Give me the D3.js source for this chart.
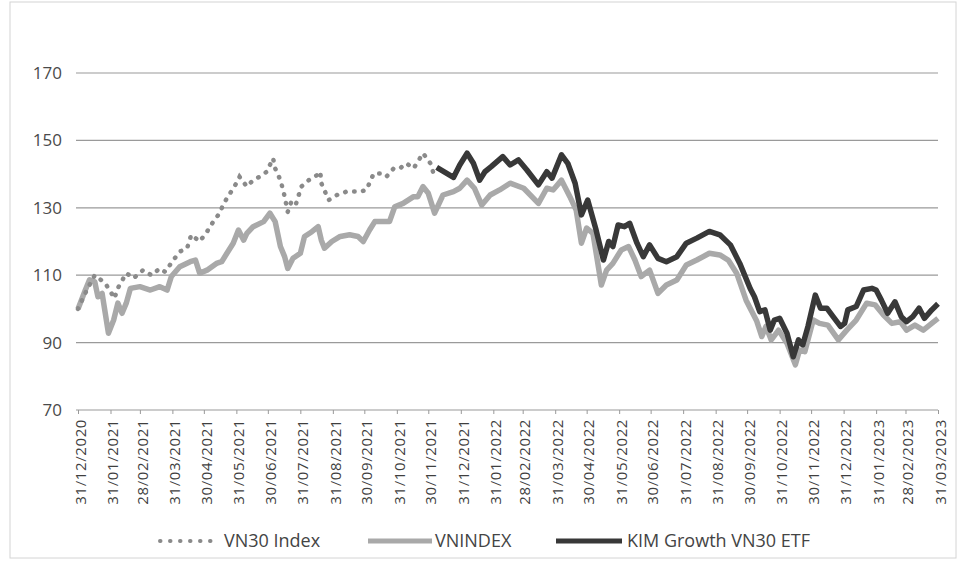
<!DOCTYPE html>
<html>
<head>
<meta charset="utf-8">
<script src="https://cdn.jsdelivr.net/npm/d3@7"></script>
<style>
  body { margin: 0; background: #fff; }
  #chart { width: 958px; height: 567px; }
  text { font-family: "Open Sans", "Noto Sans", sans-serif; }
</style>
</head>
<body>
<div id="chart"></div>
<script>
// VNINDEX (rebased to 100 at 31/12/2020)
const vnindexDates = ["2020-12-31","2021-01-07","2021-01-11","2021-01-16","2021-01-19","2021-01-23","2021-01-26","2021-01-29","2021-02-03","2021-02-07","2021-02-11","2021-02-15","2021-02-19","2021-02-28","2021-03-10","2021-03-19","2021-03-26","2021-03-30","2021-04-07","2021-04-17","2021-04-22","2021-04-26","2021-05-03","2021-05-12","2021-05-17","2021-05-22","2021-05-28","2021-06-02","2021-06-07","2021-06-10","2021-06-16","2021-06-26","2021-07-02","2021-07-07","2021-07-12","2021-07-16","2021-07-19","2021-07-24","2021-07-31","2021-08-04","2021-08-11","2021-08-17","2021-08-20","2021-08-23","2021-08-30","2021-09-07","2021-09-16","2021-09-24","2021-09-29","2021-10-05","2021-10-10","2021-10-18","2021-10-24","2021-10-29","2021-11-06","2021-11-16","2021-11-20","2021-11-25","2021-11-30","2021-12-06","2021-12-14","2021-12-24","2021-12-30","2022-01-06","2022-01-13","2022-01-20","2022-01-28","2022-02-06","2022-02-16","2022-03-01","2022-03-15","2022-03-23","2022-03-29","2022-04-06","2022-04-14","2022-04-20","2022-04-25","2022-04-30","2022-05-06","2022-05-14","2022-05-19","2022-05-25","2022-06-02","2022-06-09","2022-06-15","2022-06-21","2022-06-29","2022-07-07","2022-07-15","2022-07-25","2022-08-03","2022-08-13","2022-08-25","2022-09-04","2022-09-12","2022-09-20","2022-09-29","2022-10-09","2022-10-14","2022-10-18","2022-10-23","2022-10-30","2022-11-07","2022-11-15","2022-11-19","2022-11-24","2022-12-02","2022-12-08","2022-12-16","2022-12-26","2023-01-03","2023-01-12","2023-01-22","2023-01-30","2023-02-07","2023-02-15","2023-02-23","2023-03-01","2023-03-09","2023-03-17","2023-03-25","2023-03-31"];
const vnindexValues = [100,105.6,108.6,108,103.6,104.6,98.7,92.8,96.7,101.7,98.7,101.7,106.1,106.6,105.6,106.6,105.6,109.6,112.5,114,114.5,110.6,111.5,113.5,114,116.5,119.5,123.4,120.4,122.4,124.4,125.9,128.4,125.9,118.5,115.5,112,115,116.5,121.5,122.9,124.4,120.4,118,120,121.5,122,121.5,120,123.4,125.9,125.9,125.9,130.3,131.3,133.3,133.3,136.3,134.3,128.4,133.8,134.8,135.8,138.2,135.8,130.8,133.8,135.3,137.3,135.8,131.3,135.8,135.3,138.2,133.3,129.3,119.5,124,122.4,107.1,111.5,113.5,117.5,118.5,114.5,109.6,111.5,104.6,107.1,108.6,113,114.5,116.5,116,114.5,110.6,102.6,96.5,91.8,94.8,90.8,93.7,89.8,83.4,87.8,87.3,96.7,95.7,95.2,90.8,93.7,96.7,101.7,101.2,98.2,95.7,96.2,93.7,95.2,93.7,95.7,97.2];

// VN30 Index (visible part, later covered by the ETF line)
const vn30Dates = ["2020-12-31","2021-01-09","2021-01-16","2021-01-26","2021-02-04","2021-02-06","2021-02-15","2021-02-22","2021-03-03","2021-03-11","2021-03-19","2021-03-24","2021-04-01","2021-04-07","2021-04-14","2021-04-18","2021-04-26","2021-05-03","2021-05-09","2021-05-15","2021-05-19","2021-05-25","2021-05-31","2021-06-03","2021-06-10","2021-06-16","2021-06-22","2021-06-29","2021-07-05","2021-07-07","2021-07-12","2021-07-15","2021-07-19","2021-07-23","2021-07-27","2021-08-01","2021-08-08","2021-08-16","2021-08-19","2021-08-20","2021-08-27","2021-09-04","2021-09-13","2021-09-26","2021-10-02","2021-10-09","2021-10-15","2021-10-21","2021-10-28","2021-11-03","2021-11-09","2021-11-16","2021-11-25","2021-12-02","2021-12-05","2021-12-08"];
const vn30Values = [100,106,110,107.6,103.1,105.6,110.6,109.1,111.5,110,112,111,114.5,117,118,122,120,122.9,125.9,128.4,131.3,134.3,137.3,139.2,136.3,138.2,139.2,140.7,144.7,141.7,138.2,134.8,128.8,132.3,131.3,136.3,138.2,139.7,140.7,137.3,132.3,133.8,134.8,134.8,135.3,140.2,140.2,139.2,141.7,141.7,143.2,141.7,146.2,143.2,140.2,141.7];

// KIM Growth VN30 ETF
const etfDates = ["2021-12-08","2021-12-24","2021-12-30","2022-01-06","2022-01-12","2022-01-18","2022-01-23","2022-01-29","2022-02-09","2022-02-16","2022-02-24","2022-03-04","2022-03-15","2022-03-23","2022-03-28","2022-04-06","2022-04-12","2022-04-19","2022-04-25","2022-05-01","2022-05-09","2022-05-16","2022-05-21","2022-05-25","2022-05-30","2022-06-05","2022-06-10","2022-06-17","2022-06-23","2022-06-29","2022-07-07","2022-07-15","2022-07-25","2022-08-03","2022-08-13","2022-08-25","2022-09-04","2022-09-14","2022-09-23","2022-10-03","2022-10-07","2022-10-12","2022-10-17","2022-10-22","2022-10-26","2022-10-31","2022-11-07","2022-11-13","2022-11-18","2022-11-22","2022-11-27","2022-12-04","2022-12-09","2022-12-15","2022-12-21","2022-12-28","2023-01-01","2023-01-04","2023-01-12","2023-01-19","2023-01-27","2023-01-31","2023-02-05","2023-02-11","2023-02-18","2023-02-24","2023-03-01","2023-03-07","2023-03-13","2023-03-18","2023-03-25","2023-03-31"];
const etfValues = [142,139,142.7,146.2,143.2,138.2,140.7,142.2,145.2,142.7,144.2,141.2,136.8,140.7,138.8,145.7,143.2,137.3,127.9,132.3,123.4,114.5,120,118.5,124.9,124.4,125.4,119.5,115.5,119,115,114,115.5,119.5,121,123,122,119,113.5,106,103.6,99.2,99.7,93.7,96.7,97.2,92.8,85.8,90.8,89.3,94.8,104.1,100.2,100.2,97.7,94.8,95.7,99.7,100.7,105.6,106.1,105.6,102.6,98.7,102.1,97.7,96.2,97.7,100.2,97.2,99.7,101.5];

// Axis ticks
const yTicks = [70, 90, 110, 130, 150, 170];
const xTickLabels = ["31/12/2020","31/01/2021","28/02/2021","31/03/2021","30/04/2021","31/05/2021","30/06/2021","31/07/2021","31/08/2021","30/09/2021","31/10/2021","30/11/2021","31/12/2021","31/01/2022","28/02/2022","31/03/2022","30/04/2022","31/05/2022","30/06/2022","31/07/2022","31/08/2022","30/09/2022","31/10/2022","30/11/2022","31/12/2022","31/01/2023","28/02/2023","31/03/2023"];

const legendNames = ["VN30 Index", "VNINDEX", "KIM Growth VN30 ETF"];

const width = 958, height = 567;
const parseDay = d3.timeParse("%Y-%m-%d");
const parseLabel = d3.timeParse("%d/%m/%Y");

function zipSeries(dates, values) {
    return dates.map((d, i) => ({ date: parseDay(d), value: values[i] }));
}

const vnindex = zipSeries(vnindexDates, vnindexValues);
const vn30 = zipSeries(vn30Dates, vn30Values);
const etf = zipSeries(etfDates, etfValues);

const svg = d3.select("#chart").append("svg")
    .attr("width", width)
    .attr("height", height);

svg.append("rect")
    .attr("x", 10).attr("y", 2)
    .attr("width", 946).attr("height", 556)
    .attr("fill", "#fff")
    .attr("stroke", "#d4d4d4");

const x = d3.scaleTime()
    .domain([parseLabel(xTickLabels[0]), parseLabel(xTickLabels[xTickLabels.length - 1])])
    .range([78, 938]);

const y = d3.scaleLinear()
    .domain([70, 170])
    .range([410, 73]);

// Gridlines
svg.append("g")
    .selectAll("line")
    .data(yTicks)
    .enter().append("line")
    .attr("x1", 76).attr("x2", 938)
    .attr("y1", d => y(d)).attr("y2", d => y(d))
    .attr("stroke", "#9a9a9a")
    .attr("stroke-width", 1.2);

// Y axis labels
svg.append("g")
    .selectAll("text")
    .data(yTicks)
    .enter().append("text")
    .attr("x", 62)
    .attr("y", d => y(d))
    .attr("dy", "0.35em")
    .attr("text-anchor", "end")
    .attr("font-size", 17)
    .attr("fill", "#4a4a4a")
    .text(d => d);

// X axis ticks and rotated labels
const xAxis = d3.axisBottom(x)
    .tickValues(xTickLabels.map(parseLabel))
    .tickFormat(d3.timeFormat("%d/%m/%Y"))
    .tickSize(4)
    .tickSizeOuter(0);

const gx = svg.append("g")
    .attr("transform", `translate(0,${y(70)})`)
    .call(xAxis);
gx.select(".domain").remove();
gx.selectAll(".tick line").attr("stroke", "#999");
gx.selectAll(".tick text")
    .attr("font-family", "'Open Sans', sans-serif")
    .attr("font-size", 15)
    .attr("letter-spacing", 0.6)
    .attr("fill", "#3f3f3f")
    .attr("text-anchor", "end")
    .attr("transform", "rotate(-90)")
    .attr("x", -9)
    .attr("y", 2)
    .attr("dy", "0.35em");

const line = d3.line()
    .x(d => x(d.date))
    .y(d => y(d.value));

// VNINDEX
svg.append("path")
    .datum(vnindex)
    .attr("d", line)
    .attr("fill", "none")
    .attr("stroke", "#a9a9a9")
    .attr("stroke-width", 5.5)
    .attr("stroke-linejoin", "round");

// VN30 dotted
svg.append("path")
    .datum(vn30)
    .attr("d", line)
    .attr("fill", "none")
    .attr("stroke", "#8a8a8a")
    .attr("stroke-width", 4.5)
    .attr("stroke-linecap", "round")
    .attr("stroke-dasharray", "0.5 8.5");

// ETF
svg.append("path")
    .datum(etf)
    .attr("d", line)
    .attr("fill", "none")
    .attr("stroke", "#383838")
    .attr("stroke-width", 5.5)
    .attr("stroke-linejoin", "round");

// Legend
const legendY = 541;
const legend = svg.append("g");

legend.append("line")
    .attr("x1", 160).attr("x2", 218)
    .attr("y1", legendY).attr("y2", legendY)
    .attr("stroke", "#8a8a8a")
    .attr("stroke-width", 4)
    .attr("stroke-linecap", "round")
    .attr("stroke-dasharray", "0.5 9.5");

legend.append("line")
    .attr("x1", 368).attr("x2", 432)
    .attr("y1", legendY).attr("y2", legendY)
    .attr("stroke", "#a9a9a9")
    .attr("stroke-width", 5);

legend.append("line")
    .attr("x1", 556).attr("x2", 622)
    .attr("y1", legendY).attr("y2", legendY)
    .attr("stroke", "#383838")
    .attr("stroke-width", 5);

legend.selectAll("text")
    .data(legendNames)
    .enter().append("text")
    .attr("x", (d, i) => [224, 435, 627][i])
    .attr("y", legendY)
    .attr("dy", "0.35em")
    .attr("font-size", 18)
    .attr("fill", "#444")
    .text(d => d);
</script>
</body>
</html>
